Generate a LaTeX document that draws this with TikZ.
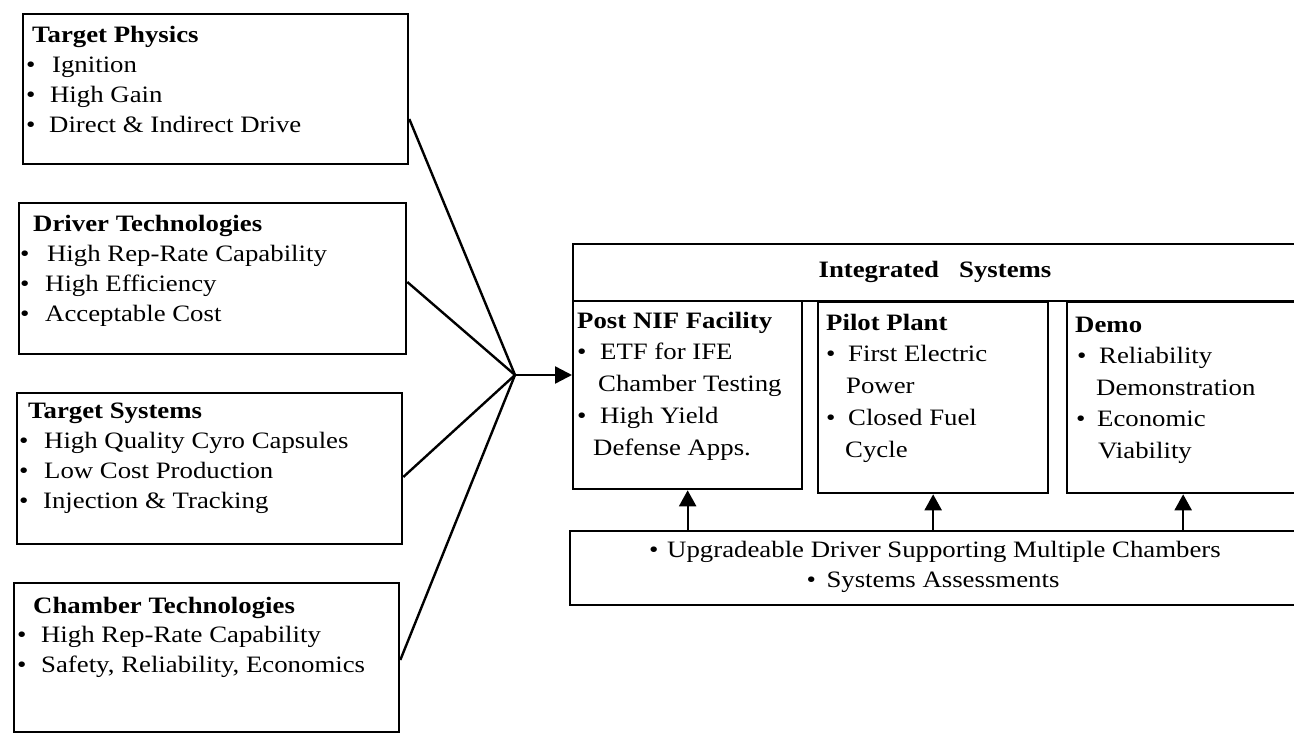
\documentclass[tikz,border=0pt]{standalone}
\usepackage{fontspec}
\setmainfont{Liberation Serif}[FakeStretch=1.14]
\usetikzlibrary{arrows.meta}
\begin{document}
\begin{tikzpicture}[x=1pt,y=-1pt,
  frame/.style={draw, line width=2.3pt, inner sep=0pt, anchor=north west},
  % multi-line text blocks are placed by the baseline of their last line
  txt/.style={anchor=base west, inner sep=0pt, align=left,
    font=\fontsize{23.5}{#1}\selectfont},
  txt/.default=30.3,
  ctxt/.style={anchor=base, inner sep=0pt, font=\fontsize{23.5}{28}\selectfont},
  link/.style={line width=2.4pt},
  uparrow/.style={line width=2.3pt, -{Triangle[length=16pt,width=17pt]}}]
\clip (0,0) rectangle (1294,733);
\fill[white] (0,0) rectangle (1294,733);

% input areas on the left
\node[frame, minimum width=385pt, minimum height=150pt] (tp) at (22,13) {};
\node[frame, minimum width=387pt, minimum height=151pt] (dt) at (18,202) {};
\node[frame, minimum width=385pt, minimum height=151pt] (ts) at (16,392) {};
\node[frame, minimum width=385pt, minimum height=149pt] (ct) at (13,582) {};

\node[txt=30.3] (tp-txt) at (26,133) {\hspace*{6pt}\textbf{Target Physics}\\
  \textbullet\hspace*{16.6pt}Ignition\\
  \textbullet\hspace*{14.6pt}High Gain\\
  \textbullet\hspace*{13.6pt}Direct \& Indirect Drive};
\node[txt=29.7] (dt-txt) at (20,321) {\hspace*{13pt}\textbf{Driver Technologies}\\
  \textbullet\hspace*{17.6pt}High Rep-Rate Capability\\
  \textbullet\hspace*{15.6pt}High Efficiency\\
  \textbullet\hspace*{15.6pt}Acceptable Cost};
\node[txt=30] (ts-txt) at (19,508) {\hspace*{9pt}\textbf{Target Systems}\\
  \textbullet\hspace*{15.6pt}High Quality Cyro Capsules\\
  \textbullet\hspace*{15.6pt}Low Cost Production\\
  \textbullet\hspace*{14.6pt}Injection \& Tracking};
\node[txt=29.5] (ct-txt) at (17,672) {\hspace*{16pt}\textbf{Chamber Technologies}\\
  \textbullet\hspace*{14.6pt}High Rep-Rate Capability\\
  \textbullet\hspace*{14.6pt}Safety, Reliability, Economics};

% integrated systems
\node[frame, minimum width=726pt, minimum height=57pt] (is) at (572,243) {};
\node[ctxt] (is-txt) at (935,277) {\textbf{Integrated\hspace{20pt}Systems}};

\node[frame, minimum width=229pt, minimum height=188pt] (nif) at (572,300) {};
\node[frame, minimum width=230pt, minimum height=191pt] (pp) at (817,301) {};
\node[frame, minimum width=232pt, minimum height=191pt] (demo) at (1066,301) {};

\node[txt=31.75] (nif-txt) at (577,455) {\textbf{Post NIF Facility}\\
  \textbullet\hspace*{13.6pt}ETF for IFE\\
  \hspace*{21pt}Chamber Testing\\
  \textbullet\hspace*{13.6pt}High Yield\\
  \hspace*{16pt}Defense Apps.};
\node[txt=31.75] (pp-txt) at (826,457) {\textbf{Pilot Plant}\\
  \textbullet\hspace*{12.6pt}First Electric\\
  \hspace*{20pt}Power\\
  \textbullet\hspace*{12.6pt}Closed Fuel\\
  \hspace*{19pt}Cycle};
\node[txt=31.5] (demo-txt) at (1075,458) {\textbf{Demo}\\
  \hspace*{2pt}\textbullet\hspace*{12.6pt}Reliability\\
  \hspace*{21pt}Demonstration\\
  \hspace*{1pt}\textbullet\hspace*{11.6pt}Economic\\
  \hspace*{23pt}Viability};

% shared driver base
\node[frame, minimum width=729pt, minimum height=74pt] (base) at (569,530) {};
\node[ctxt] (base-l1) at (935,557) {\textbullet\hspace{8.6pt}Upgradeable Driver Supporting Multiple Chambers};
\node[ctxt] (base-l2) at (933,587) {\textbullet\hspace{10.6pt}Systems Assessments};

% converging links
\coordinate (hub) at (515,375);
\draw[link] ([yshift=-106pt]tp.north east) -- (hub);
\draw[link] ([yshift=-80pt]dt.north east) -- (hub);
\draw[link] ([yshift=-85pt]ts.north east) -- (hub);
\draw[link] ([yshift=-78pt]ct.north east) -- (hub);
\draw[link, -{Triangle[length=17pt,width=17pt]}] (hub) -- (nif.west |- hub);

% upward arrows from the base
\draw[uparrow] (nif.south |- base.north) -- (nif.south);
\draw[uparrow] (pp.south |- base.north) -- (pp.south);
\draw[uparrow] (demo.south |- base.north) -- (demo.south);
\end{tikzpicture}
\end{document}
